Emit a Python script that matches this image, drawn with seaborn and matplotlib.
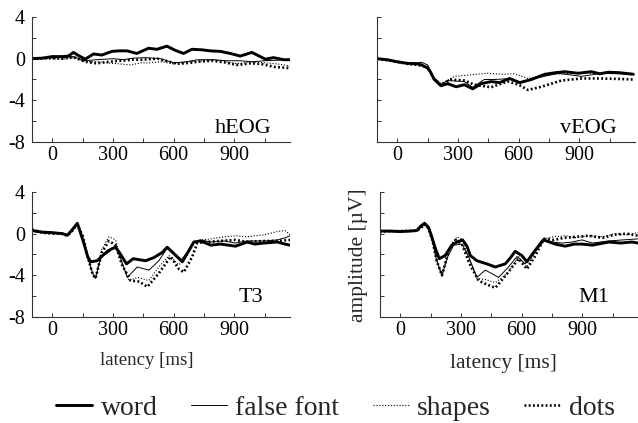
import matplotlib
matplotlib.use("Agg")
import matplotlib.pyplot as plt
import seaborn as sns
from matplotlib.lines import Line2D

# ---------------- data (latency in ms, amplitude in µV) ----------------
# hEOG
heog_word_t = [-100, -50, 0, 50, 80, 105, 130, 163, 204, 245, 295, 330, 369, 418, 476, 517, 567, 608, 649, 690, 740, 781, 830, 880, 929, 987, 1053, 1094, 1143, 1175]
heog_word_v = [0.0, 0.05, 0.2, 0.2, 0.25, 0.6, 0.3, -0.05, 0.45, 0.35, 0.7, 0.75, 0.75, 0.5, 1.0, 0.9, 1.2, 0.8, 0.5, 0.9, 0.85, 0.75, 0.7, 0.5, 0.25, 0.6, -0.05, 0.1, -0.1, -0.1]
heog_false_t = [-100, 0, 50, 105, 163, 220, 303, 350, 400, 460, 534, 600, 660, 720, 798, 860, 929, 990, 1050, 1110, 1175]
heog_false_v = [0.0, 0.1, 0.1, 0.2, -0.2, -0.1, 0.0, -0.1, 0.05, 0.1, 0.0, -0.4, -0.3, -0.1, -0.1, -0.2, -0.2, -0.3, -0.2, -0.15, -0.1]
heog_shapes_t = [-100, 0, 50, 105, 163, 230, 270, 330, 386, 440, 484, 540, 600, 680, 750, 800, 860, 913, 980, 1050, 1110, 1175]
heog_shapes_v = [0.0, 0.0, -0.05, 0.1, -0.3, -0.3, -0.4, -0.5, -0.6, -0.4, -0.4, -0.3, -0.5, -0.3, -0.2, -0.1, -0.3, -0.5, -0.3, -0.4, -0.5, -0.7]
heog_dots_t = [-100, 0, 50, 105, 163, 220, 280, 340, 400, 450, 520, 560, 616, 680, 715, 790, 850, 913, 980, 1030, 1100, 1175]
heog_dots_v = [0.0, 0.05, 0.0, 0.15, -0.3, -0.45, -0.3, -0.2, -0.1, -0.1, 0.0, -0.2, -0.5, -0.4, -0.3, -0.2, -0.35, -0.6, -0.45, -0.5, -0.8, -0.9]

# vEOG
veog_word_t = [-100, -50, 0, 51, 100, 120, 150, 165, 183, 216, 250, 291, 332, 373, 415, 464, 506, 555, 605, 663, 729, 780, 828, 894, 960, 1000, 1043, 1100, 1167]
veog_word_v = [0.0, -0.1, -0.3, -0.45, -0.5, -0.6, -0.9, -1.3, -2.0, -2.6, -2.4, -2.7, -2.5, -2.9, -2.4, -2.2, -2.3, -1.9, -2.3, -2.0, -1.5, -1.35, -1.25, -1.4, -1.25, -1.45, -1.3, -1.35, -1.5]
veog_false_t = [-100, 0, 51, 100, 120, 150, 180, 216, 250, 332, 373, 430, 481, 564, 612, 680, 795, 910, 1010, 1167]
veog_false_v = [0.0, -0.3, -0.4, -0.4, -0.35, -0.6, -1.8, -2.5, -2.1, -2.2, -2.75, -2.0, -2.0, -1.9, -2.3, -1.9, -1.4, -1.7, -1.4, -1.5]
veog_shapes_t = [-100, 0, 51, 100, 150, 180, 216, 283, 365, 448, 520, 580, 646, 720, 850, 1000, 1167]
veog_shapes_v = [0.0, -0.3, -0.45, -0.5, -0.8, -1.8, -2.4, -1.7, -1.55, -1.4, -1.5, -1.45, -1.9, -1.6, -1.4, -1.4, -1.4]
veog_dots_t = [-100, 0, 51, 100, 150, 180, 216, 266, 332, 382, 464, 506, 547, 600, 646, 712, 811, 911, 1000, 1100, 1167]
veog_dots_v = [0.0, -0.3, -0.5, -0.6, -0.8, -1.9, -2.5, -2.0, -2.1, -2.5, -2.75, -2.45, -2.2, -2.5, -3.0, -2.7, -2.1, -1.9, -1.9, -1.95, -2.0]

# T3
t3_word_t = [-100, -50, 0, 50, 75, 100, 124, 156, 175, 190, 222, 255, 290, 313, 335, 367, 400, 430, 461, 502, 544, 568, 601, 643, 667, 700, 733, 783, 832, 870, 906, 964, 1000, 1046, 1112, 1150, 1175]
t3_word_v = [0.3, 0.15, 0.1, 0.0, -0.15, 0.4, 1.0, -0.9, -2.2, -2.7, -2.6, -2.0, -1.5, -1.3, -1.9, -2.9, -2.4, -2.5, -2.6, -2.3, -1.8, -1.3, -1.9, -2.7, -1.9, -0.8, -0.7, -1.1, -1.0, -1.1, -1.2, -0.8, -1.0, -0.9, -0.8, -1.0, -1.1]
t3_false_t = [-100, -50, 0, 50, 75, 100, 124, 150, 175, 200, 214, 240, 270, 313, 340, 371, 420, 478, 527, 568, 600, 634, 667, 700, 733, 783, 850, 906, 964, 1050, 1112, 1150, 1175]
t3_false_v = [0.3, 0.1, 0.05, 0.0, -0.1, 0.5, 0.9, -0.3, -2.3, -3.8, -4.3, -2.3, -1.6, -1.2, -2.5, -4.2, -3.2, -3.5, -2.6, -1.4, -2.0, -2.6, -1.8, -0.8, -0.6, -0.8, -0.7, -0.9, -0.7, -0.7, -0.6, -0.4, -0.2]
t3_shapes_t = [-100, -50, 0, 50, 75, 100, 124, 150, 175, 200, 214, 245, 280, 313, 345, 379, 420, 478, 527, 577, 626, 667, 700, 740, 783, 850, 906, 964, 1050, 1112, 1150, 1175]
t3_shapes_v = [0.2, 0.1, 0.0, 0.0, -0.1, 0.4, 0.8, -0.3, -2.3, -3.9, -4.2, -1.5, -0.3, -0.6, -2.8, -4.5, -4.2, -4.5, -3.2, -2.1, -3.0, -2.1, -0.9, -0.6, -0.5, -0.3, -0.2, -0.3, -0.1, 0.2, 0.3, -0.1]
t3_dots_t = [-100, -50, 0, 50, 75, 100, 124, 150, 175, 200, 214, 245, 280, 313, 345, 387, 430, 470, 527, 585, 626, 650, 690, 717, 760, 830, 906, 964, 1050, 1112, 1175]
t3_dots_v = [0.4, 0.1, 0.0, 0.0, -0.2, 0.3, 0.9, -0.2, -2.2, -3.9, -4.3, -1.8, -0.7, -1.1, -3.0, -4.5, -4.6, -5.1, -3.8, -2.2, -3.4, -3.7, -2.3, -0.9, -0.8, -0.7, -0.6, -0.8, -0.7, -0.7, -0.6]

# M1
m1_word_t = [-100, -50, 0, 50, 82, 100, 120, 140, 156, 175, 193, 222, 255, 280, 308, 330, 346, 379, 428, 470, 519, 545, 568, 601, 626, 667, 708, 766, 815, 860, 898, 950, 1030, 1090, 1145, 1175]
m1_word_v = [0.25, 0.25, 0.2, 0.25, 0.3, 0.7, 1.0, 0.6, -0.3, -1.5, -2.4, -2.1, -1.1, -0.8, -0.6, -1.2, -2.1, -2.6, -2.9, -3.2, -2.9, -2.3, -1.7, -2.1, -2.7, -1.6, -0.6, -1.0, -1.2, -1.0, -1.0, -1.1, -0.8, -0.9, -0.8, -0.9]
m1_false_t = [-100, 0, 82, 100, 120, 140, 160, 180, 206, 235, 264, 305, 340, 379, 420, 450, 486, 535, 577, 618, 650, 700, 750, 800, 850, 898, 950, 1030, 1100, 1175]
m1_false_v = [0.25, 0.25, 0.3, 0.6, 0.9, 0.5, -0.8, -2.6, -4.0, -2.2, -1.1, -1.0, -2.3, -4.2, -3.5, -3.8, -4.2, -3.2, -2.2, -2.9, -2.0, -0.6, -0.8, -0.9, -0.8, -0.6, -0.9, -0.7, -0.6, -0.5]
m1_shapes_t = [-100, 0, 82, 100, 120, 140, 160, 180, 206, 240, 280, 310, 340, 379, 420, 470, 530, 585, 626, 660, 708, 760, 815, 870, 931, 1000, 1060, 1120, 1175]
m1_shapes_v = [0.25, 0.3, 0.3, 0.6, 0.9, 0.6, -0.6, -2.5, -4.0, -1.5, -0.3, -0.6, -2.4, -4.3, -4.4, -4.7, -3.8, -2.2, -3.2, -2.0, -0.5, -0.3, -0.2, -0.4, -0.2, -0.3, 0.0, -0.1, 0.1]
m1_dots_t = [-100, 0, 82, 100, 120, 140, 160, 180, 206, 240, 272, 305, 340, 387, 430, 470, 530, 585, 626, 665, 710, 760, 811, 870, 931, 1000, 1060, 1120, 1175]
m1_dots_v = [0.2, 0.25, 0.3, 0.5, 0.9, 0.5, -0.7, -2.6, -4.0, -1.6, -0.6, -1.0, -2.8, -4.5, -4.9, -5.2, -3.8, -2.4, -3.4, -2.2, -0.5, -0.6, -0.4, -0.3, -0.2, -0.4, -0.1, 0.0, -0.2]

conditions = ["word", "false font", "shapes", "dots"]
x_major = [0, 300, 600, 900]
x_minor = [150, 450, 750, 1050]
y_major = [4, 0, -4, -8]
y_minor = [2, -2, -6]

# ---------------- styling ----------------
sns.set_theme(style="ticks")
plt.rcParams["font.family"] = ["Liberation Serif", "DejaVu Serif"]

STYLES = {
    "word": dict(lw=2.1, ls="-"),
    "false font": dict(lw=0.7, ls="-"),
    "shapes": dict(lw=0.8, ls=(0, (1.0, 1.6))),
    "dots": dict(lw=1.9, ls=(0, (0.7, 0.9))),
}
DRAW_ORDER = ["shapes", "dots", "false font", "word"]
AX_COLOR = "#333333"

fig = plt.figure(figsize=(6.38, 4.23), dpi=100)
W, H = 638.0, 423.0


def make_ax(x0, ytop, width=258, height=125):
    return fig.add_axes([x0 / W, 1 - (ytop + height) / H, width / W, height / H])


panels = [
    (make_ax(32, 17), "hEOG", (0.93, 0.072), True,
     {"word": (heog_word_t, heog_word_v), "false font": (heog_false_t, heog_false_v),
      "shapes": (heog_shapes_t, heog_shapes_v), "dots": (heog_dots_t, heog_dots_v)}),
    (make_ax(377, 17), "vEOG", (0.93, 0.072), False,
     {"word": (veog_word_t, veog_word_v), "false font": (veog_false_t, veog_false_v),
      "shapes": (veog_shapes_t, veog_shapes_v), "dots": (veog_dots_t, veog_dots_v)}),
    (make_ax(32, 192), "T3", (0.895, 0.12), True,
     {"word": (t3_word_t, t3_word_v), "false font": (t3_false_t, t3_false_v),
      "shapes": (t3_shapes_t, t3_shapes_v), "dots": (t3_dots_t, t3_dots_v)}),
    (make_ax(380, 192), "M1", (0.89, 0.12), False,
     {"word": (m1_word_t, m1_word_v), "false font": (m1_false_t, m1_false_v),
      "shapes": (m1_shapes_t, m1_shapes_v), "dots": (m1_dots_t, m1_dots_v)}),
]

for ax, label, lpos, show_y, series in panels:
    for cond in DRAW_ORDER:
        t, v = series[cond]
        st = STYLES[cond]
        sns.lineplot(x=t, y=v, ax=ax, color="black", linewidth=st["lw"],
                     linestyle=st["ls"], estimator=None, sort=False,
                     solid_joinstyle="round", solid_capstyle="round")
    ax.set_xlim(-100, 1175)
    ax.set_ylim(-8, 4)
    ax.set_xticks(x_major)
    ax.set_xticks(x_minor, minor=True)
    ax.set_yticks(y_major)
    ax.set_yticks(y_minor, minor=True)
    ax.set_xticklabels([str(v) for v in x_major])
    ax.set_yticklabels([str(v) for v in y_major])
    for side in ("top", "right"):
        ax.spines[side].set_visible(False)
    for side in ("left", "bottom"):
        ax.spines[side].set_linewidth(0.8)
        ax.spines[side].set_color(AX_COLOR)
    ax.tick_params(axis="both", which="both", direction="in", length=3,
                   width=0.7, color=AX_COLOR, labelsize=14.5, labelcolor="black")
    ax.tick_params(axis="x", which="both", pad=3)
    ax.tick_params(axis="y", which="both", pad=5, labelleft=show_y)
    ax.set_xlabel("")
    ax.set_ylabel("")
    ax.set_facecolor("white")
    ax.text(lpos[0], lpos[1], label, transform=ax.transAxes, ha="right",
            va="baseline", fontsize=16, color="black")

# axis titles
fig.text(147 / W, 1 - 360 / H, "latency [ms]", ha="center", va="center", fontsize=13.5)
fig.text(503 / W, 1 - 363 / H, "latency [ms]", ha="center", va="center", fontsize=15.5)
fig.text(358 / W, 1 - 255 / H, "amplitude [µV]", ha="center", va="center",
         rotation=90, fontsize=15.5)

# legend
handles = [Line2D([], [], color="black", linewidth=STYLES[c]["lw"],
                  linestyle=STYLES[c]["ls"]) for c in conditions]
fig.legend(handles, conditions, loc="center", bbox_to_anchor=(0.526, 0.035),
           ncol=4, frameon=False, fontsize=20, handlelength=1.3,
           handletextpad=0.3, columnspacing=1.2, borderpad=0, borderaxespad=0)

fig.savefig("out.png", dpi=100, facecolor="white")
